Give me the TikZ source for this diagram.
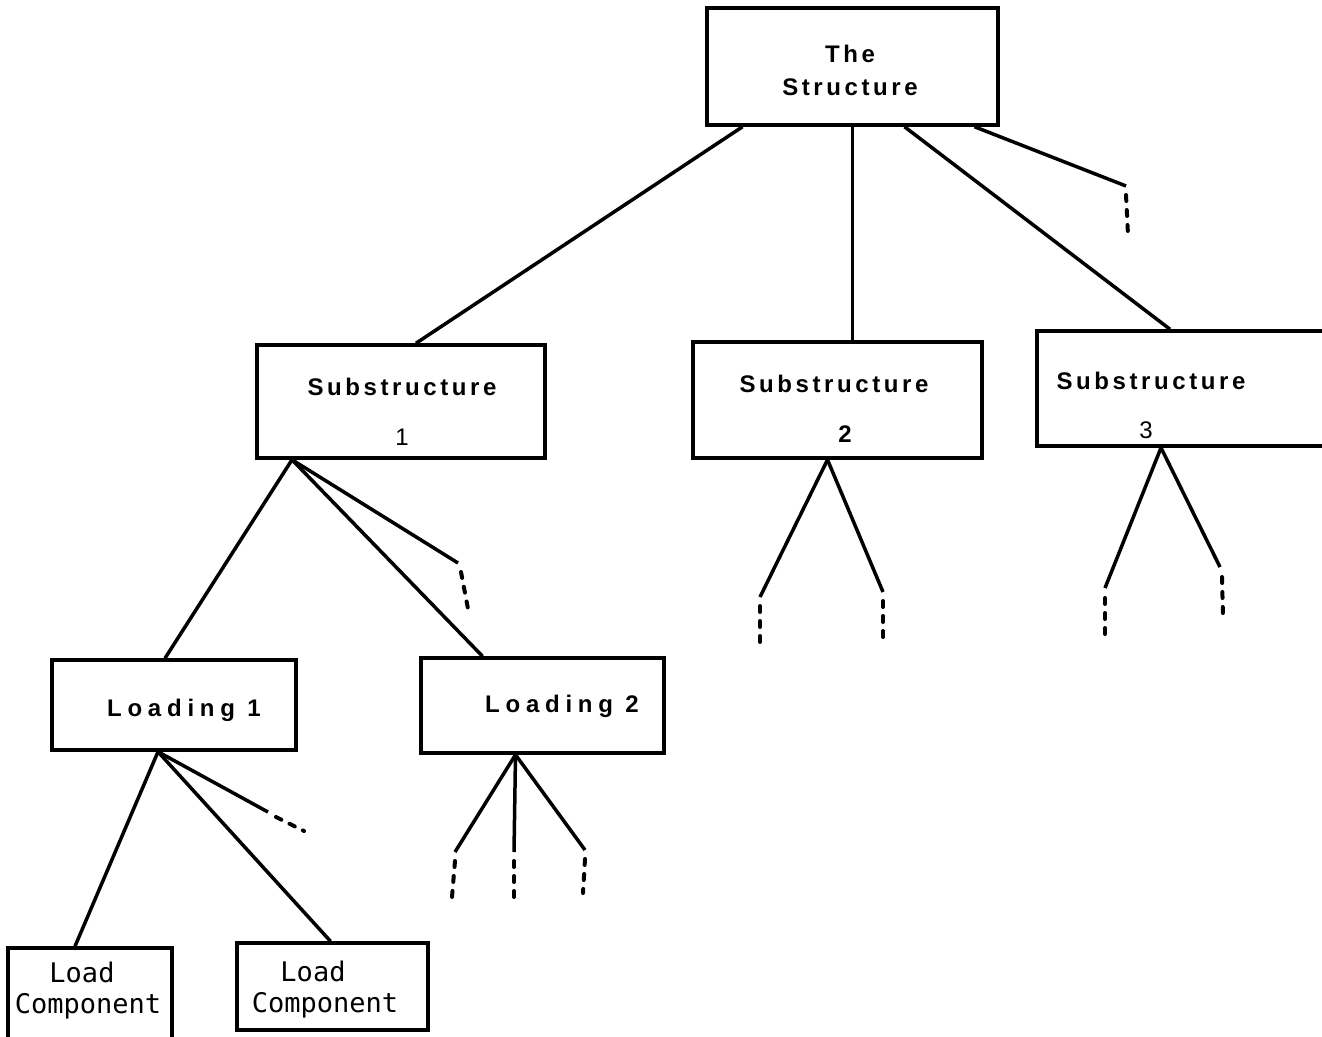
\documentclass[tikz,border=0pt]{standalone}
\usepackage{fontspec}
\setmainfont{Liberation Sans}
\newfontfamily\widefont[LetterSpace=15]{Liberation Sans}
\newfontfamily\widerfont[LetterSpace=24]{Liberation Sans}
\newfontfamily\loadfont{DejaVu Sans Mono}

\tikzstyle{block} = [rectangle, draw, line width=3.5pt, inner sep=0pt]
\tikzstyle{title} = [font=\widefont\bfseries\fontsize{24}{33}\selectfont, align=center, inner sep=0pt]
\tikzstyle{loading} = [font=\widerfont\bfseries\fontsize{24}{33}\selectfont, inner sep=0pt]
\tikzstyle{load} = [font=\loadfont\fontsize{27}{31}\selectfont, align=center, inner sep=0pt]
\tikzstyle{branch} = [line width=3.5pt]
\tikzstyle{cont} = [line width=4pt, dash pattern=on 6pt off 9pt, line cap=round]

\begin{document}
\begin{tikzpicture}[x=1pt, y=-1pt]

\useasboundingbox (0,0) rectangle (1322,1036);

% boxes
\node [block, minimum width=291pt, minimum height=117pt] (st) at (852.5,66.5) {};
\node [block, minimum width=288pt, minimum height=113pt] (s1) at (401,401.5) {};
\node [block, minimum width=289pt, minimum height=116pt] (s2) at (837.5,400) {};
\node [block, minimum width=298pt, minimum height=115pt] (s3) at (1186,388.5) {};
\node [block, minimum width=244pt, minimum height=90pt] (l1) at (174,705) {};
\node [block, minimum width=243pt, minimum height=95pt] (l2) at (542.5,705.5) {};
\node [block, minimum width=164pt, minimum height=98pt] (lc1) at (90,997) {};
\node [block, minimum width=191pt, minimum height=87pt] (lc2) at (332.5,986.5) {};

% texts
\node [title] (st-txt) at (850,70) {The\\Structure};
\node [title] (s1-txt) at (402,412) {Substructure\\[17pt]{\mdseries 1}};
\node [title] (s2-txt) at (834,409) {Substructure\\[17pt]\hspace*{22pt}2};
\node [title] (s3-txt) at (1151,405) {Substructure\\[16pt]{\mdseries 3}\hspace*{10pt}};
\node [loading] (l1-txt) at (184,710) {Loading 1};
\node [loading] (l2-txt) at (562,706) {Loading 2};
\node [load] (lc1-txt) at (88,991) {Load\hspace*{12pt}\\Component};
\node [load] (lc2-txt) at (325,990) {Load\hspace*{24pt}\\Component};

% loose ends
\coordinate (st-more) at (1126,186);
\coordinate (s1-more) at (458,563);
\coordinate (s2-a) at (760,597);
\coordinate (s2-b) at (883,592);
\coordinate (s3-a) at (1105,588);
\coordinate (s3-b) at (1220,567);
\coordinate (l1-more) at (268,812);
\coordinate (l2-a) at (455,852);
\coordinate (l2-b) at (514,852);
\coordinate (l2-c) at (585,850);

% the structure
\draw [branch] ([xshift=-110pt]st.south) -- ([xshift=15pt]s1.north);
\draw [branch] (st.south) -- (st.south |- s2.north);
\draw [branch] ([xshift=52pt]st.south) -- ([xshift=-16pt]s3.north);
\draw [branch] ([xshift=122pt]st.south) -- (st-more);
\draw [cont] ([yshift=-9pt]st-more) -- ++(2,40);

% substructure 1
\draw [branch] ([xshift=-109pt]s1.south) -- ([xshift=-9pt]l1.north);
\draw [branch] ([xshift=-109pt]s1.south) -- ([xshift=-60pt]l2.north);
\draw [branch] ([xshift=-109pt]s1.south) -- (s1-more);
\draw [cont] ([xshift=3pt,yshift=-9pt]s1-more) -- ++(8,42);

% substructure 2
\draw [branch] ([xshift=-10pt]s2.south) -- (s2-a);
\draw [branch] ([xshift=-10pt]s2.south) -- (s2-b);
\draw [cont] ([yshift=-9pt]s2-a) -- ++(0,38);
\draw [cont] ([yshift=-9pt]s2-b) -- ++(0,42);

% substructure 3
\draw [branch] ([xshift=-25pt]s3.south) -- (s3-a);
\draw [branch] ([xshift=-25pt]s3.south) -- (s3-b);
\draw [cont] ([yshift=-10pt]s3-a) -- ++(0,36);
\draw [cont] ([xshift=2pt,yshift=-10pt]s3-b) -- ++(1,40);

% loading 1
\draw [branch] ([xshift=-16pt]l1.south) -- ([xshift=-15pt]lc1.north);
\draw [branch] ([xshift=-16pt]l1.south) -- ([xshift=-2pt]lc2.north);
\draw [branch] ([xshift=-16pt]l1.south) -- (l1-more);
\draw [cont] ([xshift=8pt,yshift=-5pt]l1-more) -- ++(28,14);

% loading 2
\draw [branch] ([xshift=-27pt]l2.south) -- (l2-a);
\draw [branch] ([xshift=-27pt]l2.south) -- (l2-b);
\draw [branch] ([xshift=-27pt]l2.south) -- (l2-c);
\draw [cont] ([yshift=-9pt]l2-a) -- ++(-3,36);
\draw [cont] ([yshift=-9pt]l2-b) -- ++(0,38);
\draw [cont] ([yshift=-9pt]l2-c) -- ++(-2,34);

\end{tikzpicture}
\end{document}
